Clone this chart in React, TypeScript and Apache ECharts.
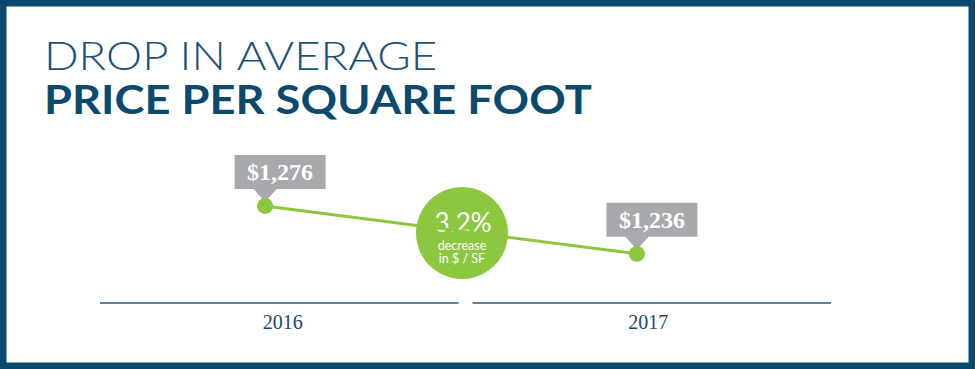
import React, { useEffect, useRef } from "react";
import * as echarts from "echarts";

const years: string[] = ["2016", "2017"];
const yearValues: number[] = [2016, 2017];
const prices: number[] = [1276, 1236];
const changeLabel = "3.2%";
const changeSub1 = "decrease";
const changeSub2 = "in $ / SF";
const titleLine1 = "DROP IN AVERAGE";
const titleLine2 = "PRICE PER SQUARE FOOT";

const Y_MIN = 1195;
const Y_MAX = 1331;

const NAVY = "#0b4a6e";
const GREEN = "#8dc63f";
const GREY = "#a7a9ac";
const AXIS = "#5a82a3";

const FONT1 = "300 40px Lato";
const FONT2 = "bold 41px Lato";

function fmt(v: number) {
  return "$" + v.toLocaleString("en-US");
}

function measure(text: string, font: string): number {
  const c = document.createElement("canvas");
  const ctx = c.getContext("2d");
  if (!ctx) return 0;
  ctx.font = font;
  return ctx.measureText(text).width;
}

export default function App() {
  const ref = useRef<HTMLDivElement>(null);
  useEffect(() => {
    if (!ref.current) return;
    const chart = echarts.init(ref.current, null, { renderer: "svg" });
    const linePoints = yearValues.map((y, i) => [y, prices[i]]);
    const w1 = measure(titleLine1, FONT1) || 360;
    const w2 = measure(titleLine2, FONT2) || 500;
    const sx1 = 396 / w1;
    const sx2 = 548 / w2;
    chart.setOption({
      animation: false,
      backgroundColor: "#ffffff",
      grid: { left: 100, right: 144, top: 140, bottom: 66, containLabel: false },
      xAxis: [
        {
          type: "category",
          data: years,
          axisLine: { show: false },
          axisTick: { show: false },
          axisLabel: {
            color: "#1a4868",
            fontFamily: "Liberation Serif",
            fontSize: 20,
            margin: 9,
          },
        },
        {
          type: "value",
          min: 2015.556,
          max: 2017.522,
          show: false,
        },
      ],
      yAxis: { type: "value", min: Y_MIN, max: Y_MAX, show: false },
      series: [
        {
          type: "custom",
          xAxisIndex: 0,
          data: years.map((_, i) => [i, Y_MIN]),
          silent: true,
          renderItem: (params: any, api: any) => {
            const c = api.coord([api.value(0), api.value(1)]);
            const bw = api.size([1, 0])[0];
            const idx = params.dataIndex;
            const x1 = c[0] - bw / 2 + (idx === 1 ? 7 : 0);
            const x2 = c[0] + bw / 2 - (idx === 0 ? 7 : 0);
            return {
              type: "line",
              shape: { x1, y1: c[1], x2, y2: c[1] },
              style: { stroke: AXIS, lineWidth: 2 },
            };
          },
          z: 1,
        },
        {
          type: "line",
          xAxisIndex: 1,
          data: linePoints,
          symbol: "circle",
          symbolSize: 16,
          itemStyle: { color: GREEN },
          lineStyle: { color: GREEN, width: 3 },
          z: 3,
        },
        {
          type: "custom",
          xAxisIndex: 1,
          data: linePoints,
          silent: true,
          renderItem: (params: any, api: any) => {
            const p = api.coord([api.value(0), api.value(1)]);
            const cx = p[0] + 15;
            return {
              type: "group",
              children: [
                {
                  type: "rect",
                  shape: { x: cx - 45.5, y: p[1] - 51, width: 91, height: 34 },
                  style: { fill: GREY },
                },
                {
                  type: "polygon",
                  shape: {
                    points: [
                      [p[0] - 12, p[1] - 17.5],
                      [p[0] + 12, p[1] - 17.5],
                      [p[0], p[1] - 4],
                    ],
                  },
                  style: { fill: GREY },
                },
                {
                  type: "text",
                  style: {
                    x: cx,
                    y: p[1] - 33.5,
                    text: fmt(api.value(1)),
                    align: "center",
                    verticalAlign: "middle",
                    fill: "#ffffff",
                    font: "bold 24px 'Liberation Serif'",
                  },
                },
              ],
            };
          },
          z: 2,
        },
      ],
      graphic: [
        {
          type: "text",
          x: 44,
          y: 55,
          scaleX: sx1,
          style: {
            x: 0,
            y: 0,
            text: titleLine1,
            align: "left",
            verticalAlign: "middle",
            fill: "#1d5277",
            font: FONT1,
          },
          silent: true,
        },
        {
          type: "text",
          x: 44,
          y: 98,
          scaleX: sx2,
          style: {
            x: 0,
            y: 0,
            text: titleLine2,
            align: "left",
            verticalAlign: "middle",
            fill: NAVY,
            font: FONT2,
          },
          silent: true,
        },
        {
          type: "rect",
          shape: { x: 0, y: 0, width: 975, height: 369 },
          style: { fill: "none", stroke: NAVY, lineWidth: 13 },
          z: 100,
          silent: true,
        },
        {
          type: "group",
          z: 50,
          children: [
            {
              type: "circle",
              shape: { cx: 462, cy: 233, r: 46 },
              style: { fill: GREEN },
            },
            {
              type: "text",
              style: {
                x: 463,
                y: 222,
                text: changeLabel,
                align: "center",
                verticalAlign: "middle",
                fill: "#ffffff",
                font: "400 26px Lato",
              },
            },
            {
              type: "text",
              style: {
                x: 462,
                y: 245.5,
                text: changeSub1,
                align: "center",
                verticalAlign: "middle",
                fill: "#ffffff",
                font: "400 12.5px Lato",
              },
            },
            {
              type: "text",
              style: {
                x: 462,
                y: 258.5,
                text: changeSub2,
                align: "center",
                verticalAlign: "middle",
                fill: "#ffffff",
                font: "400 12.5px Lato",
              },
            },
          ],
        },
      ],
    });
    return () => chart.dispose();
  }, []);
  return (
    <div
      ref={ref}
      style={{ position: "absolute", left: 0, top: 0, width: 975, height: 369 }}
    />
  );
}
